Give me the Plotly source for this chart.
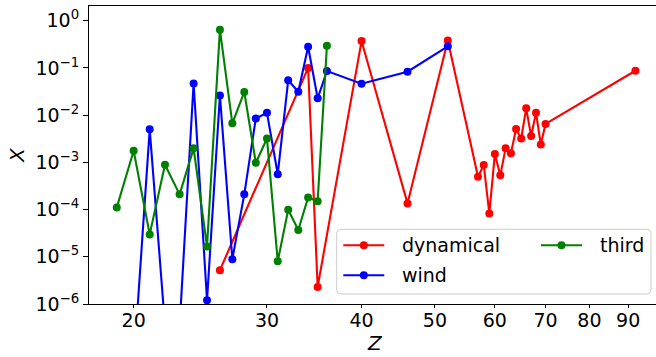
import plotly.graph_objects as go
import numpy as np

# Data
dyn_z = [26, 34, 35, 40, 46, 52, 57, 58, 59, 60, 61, 62, 63, 64, 65, 66, 67, 68, 69, 70, 92]
dyn_x = [5.2e-6, 0.10, 2.3e-6, 0.37, 1.35e-4, 0.38, 4.95e-4, 8.8e-4, 8.3e-5, 1.5e-3, 5.3e-4,
         2.0e-3, 1.55e-3, 5.1e-3, 3.2e-3, 0.0139, 3.6e-3, 0.0112, 2.4e-3, 6.5e-3, 0.087]

wind_z = [20, 21, 22, 23, 24, 25, 26, 27, 28, 29, 30, 31, 32, 33, 34, 35, 36, 40, 46, 52]
wind_x = [5e-8, 5.0e-3, 3.5e-7, 3.4e-7, 0.047, 1.2e-6, 0.026, 8.9e-6, 2.1e-4, 8.5e-3, 0.0112,
          5.6e-4, 0.0546, 0.0313, 0.281, 0.0227, 0.086, 0.0463, 0.083, 0.287]

third_z = [19, 20, 21, 22, 23, 24, 25, 26, 27, 28, 29, 30, 31, 32, 33, 34, 35, 36]
third_x = [1.11e-4, 1.76e-3, 2.98e-5, 8.9e-4, 2.1e-4, 1.98e-3, 1.66e-5, 0.645, 6.7e-3, 0.0309,
           9.8e-4, 3.2e-3, 8.0e-6, 9.9e-5, 3.7e-5, 1.8e-4, 1.5e-4, 0.295]

xtick_vals = [20, 30, 40, 50, 60, 70, 80, 90]
ytick_exps = [-6, -5, -4, -3, -2, -1, 0]

FONT = "DejaVu Sans"
W, H = 656, 357
ML, MR, MT, MB = 89, 0, 6, 53
PW, PH = W - ML - MR, H - MT - MB


def px(xp):
    return (xp - ML) / PW


def py(yp):
    return (H - MB - yp) / PH


fig = go.Figure()
series = [
    ("dynamical", dyn_z, dyn_x, "#ff0000"),
    ("wind", wind_z, wind_x, "#0000ff"),
    ("third", third_z, third_x, "#008000"),
]
for name, zs, xs, col in series:
    fig.add_trace(go.Scatter(
        x=zs, y=xs, name=name, mode="lines+markers",
        line=dict(color=col, width=2.1),
        marker=dict(color=col, size=8),
        showlegend=False,
    ))

fig.update_layout(
    width=W, height=H,
    margin=dict(l=ML, r=MR, t=MT, b=MB),
    plot_bgcolor="white", paper_bgcolor="white",
    font=dict(family=FONT, size=19, color="black"),
    showlegend=False,
)

fig.update_xaxes(
    type="log", automargin=False,
    range=[np.log10(17.46), 1.991],
    tickvals=xtick_vals, ticktext=[str(v) for v in xtick_vals],
    ticks="outside", ticklen=3, tickwidth=1, tickcolor="black",
    ticklabelstandoff=-4,
    showline=True, linecolor="black", linewidth=1, mirror=True,
    showgrid=False, zeroline=False,
    tickfont=dict(family=FONT, size=19),
)
fig.update_yaxes(
    type="log", automargin=False,
    range=[-6, 0.311],
    tickvals=[10.0 ** e for e in ytick_exps],
    ticktext=["10<sup>" + (str(e) if e >= 0 else "\u2212" + str(-e)) + "</sup>" for e in ytick_exps],
    ticks="outside", ticklen=5, tickwidth=1, tickcolor="black",
    showline=True, linecolor="black", linewidth=1, mirror=False,
    showgrid=False, zeroline=False,
    tickfont=dict(family=FONT, size=19),
)

# axis titles
fig.add_annotation(text="<i>Z</i>", xref="paper", yref="paper", x=px(375), y=py(342.7),
                   xanchor="center", yanchor="middle", showarrow=False,
                   font=dict(family=FONT, size=20))
fig.add_annotation(text="<i>X</i>", xref="paper", yref="paper", x=px(17), y=py(155),
                   xanchor="center", yanchor="middle", showarrow=False, textangle=-90,
                   font=dict(family=FONT, size=20))

# legend (manual, matching a two-column layout)
bx0, bx1, by0, by1, r = 336.7, 651.0, 229.3, 294.0, 4.0
rx, ry = r / PW, r / PH
X0, X1, Y0, Y1 = px(bx0), px(bx1), py(by1), py(by0)
path = (f"M {X0+rx},{Y0} L {X1-rx},{Y0} Q {X1},{Y0} {X1},{Y0+ry} "
        f"L {X1},{Y1-ry} Q {X1},{Y1} {X1-rx},{Y1} L {X0+rx},{Y1} Q {X0},{Y1} {X0},{Y1-ry} "
        f"L {X0},{Y0+ry} Q {X0},{Y0} {X0+rx},{Y0} Z")
fig.add_shape(type="path", path=path, xref="paper", yref="paper",
              fillcolor="rgba(255,255,255,0.8)", line=dict(color="#cccccc", width=1), layer="above")

legend_items = [
    ("dynamical", "#ff0000", 343.3, 245.3),
    ("wind", "#0000ff", 343.3, 275.3),
    ("third", "#008000", 541.0, 245.3),
]
for name, col, lx, ly in legend_items:
    fig.add_shape(type="line", xref="paper", yref="paper",
                  x0=px(lx), x1=px(lx + 41), y0=py(ly), y1=py(ly),
                  line=dict(color=col, width=2.1), layer="above")
    fig.add_shape(type="circle", xref="paper", yref="paper",
                  x0=px(lx + 20.5 - 4), x1=px(lx + 20.5 + 4), y0=py(ly + 4), y1=py(ly - 4),
                  fillcolor=col, line=dict(color=col, width=0), layer="above")
    fig.add_annotation(text=name, xref="paper", yref="paper", x=px(lx + 56.5), y=py(ly),
                       xanchor="left", yanchor="middle", showarrow=False,
                       font=dict(family=FONT, size=19, color="black"))

fig.write_html("out.html", config={"displayModeBar": False},
               post_script="document.body.style.margin='0px';document.body.style.overflow='hidden';")
